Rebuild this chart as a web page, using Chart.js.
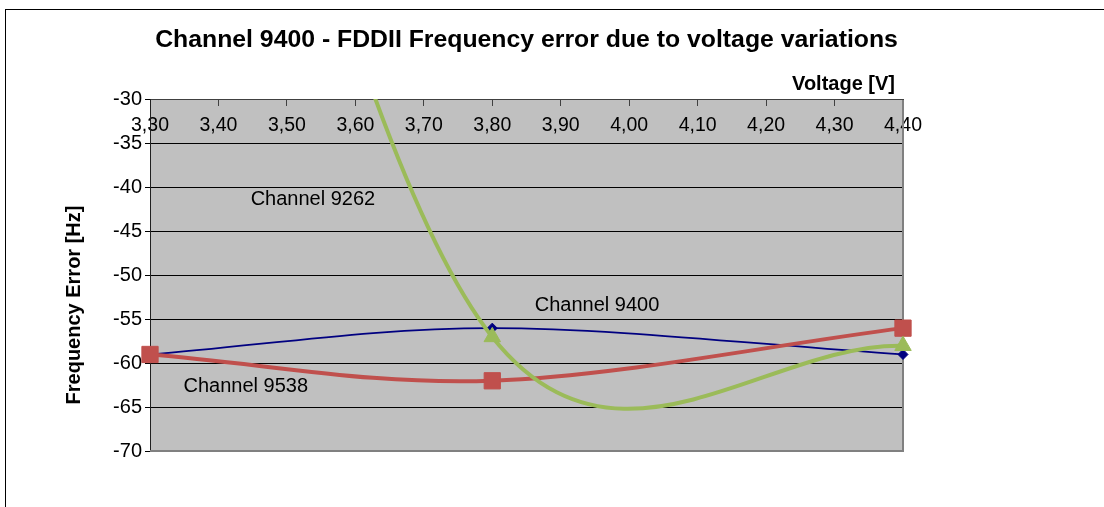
<!DOCTYPE html>
<html>
<head>
<meta charset="utf-8">
<script src="https://cdn.jsdelivr.net/npm/chart.js@4.4.0/dist/chart.umd.min.js"></script>
<style>
  html, body { margin: 0; padding: 0; background: #fff; }
  #wrap { position: relative; width: 1104px; height: 507px; overflow: hidden; }
  #frame { position: absolute; left: 5px; top: 9px; right: -10px; bottom: -10px;
           border-top: 1px solid #000; border-left: 1px solid #000; pointer-events: none; }
</style>
</head>
<body>
<div id="wrap">
  <canvas id="chart" width="1104" height="507"></canvas>
  <div id="frame"></div>
</div>
<script>
// data
const voltages = [3.30, 3.80, 4.40];
const channel9400 = [-59, -56, -59];
const channel9538 = [-59, -62, -56];
const channel9262 = [50, -57, -58];   // 3,30 V point is far above the visible range

const seriesNames = ['Channel 9262', 'Channel 9538', 'Channel 9400'];
const yRange = [-70, -30];
const xRange = [3.30, 4.40];

const FONT = "'Liberation Sans', Arial, sans-serif";

function points(values) {
    return voltages.map((v, i) => ({ x: v, y: values[i] }));
}

// Excel style smoothing: interior handles (next - prev) / 6, end handles along the chord / 3
const excelSmooth = {
    id: 'excelSmooth',
    beforeDatasetDraw(chart, args) {
        const meta = args.meta;
        const line = meta.dataset;
        if (!line) return;
        line.updateControlPoints(chart.chartArea, meta.iScale.axis);
        const pts = meta.data;
        for (let i = 0; i < pts.length; i++) {
            const p = pts[i];
            const prev = pts[i - 1];
            const next = pts[i + 1];
            if (prev && next) {
                const dx = (next.x - prev.x) / 6;
                const dy = (next.y - prev.y) / 6;
                p.cp1x = p.x - dx; p.cp1y = p.y - dy;
                p.cp2x = p.x + dx; p.cp2y = p.y + dy;
            } else if (next) {
                p.cp1x = p.x; p.cp1y = p.y;
                p.cp2x = p.x + (next.x - p.x) / 3;
                p.cp2y = p.y + (next.y - p.y) / 3;
            } else if (prev) {
                p.cp1x = p.x - (p.x - prev.x) / 3;
                p.cp1y = p.y - (p.y - prev.y) / 3;
                p.cp2x = p.x; p.cp2y = p.y;
            }
        }
    }
};

// grey plot area with the darker right / bottom edge
const plotArea = {
    id: 'plotArea',
    beforeDraw(chart) {
        const { ctx, chartArea: a } = chart;
        ctx.save();
        ctx.fillStyle = '#c0c0c0';
        ctx.fillRect(a.left, a.top, a.right - a.left, a.bottom - a.top);
        ctx.restore();
    },
    beforeDatasetsDraw(chart) {
        const { ctx, chartArea: a } = chart;
        ctx.save();
        ctx.strokeStyle = '#808080';
        ctx.lineWidth = 2;
        ctx.beginPath();
        ctx.moveTo(a.right, a.top);
        ctx.lineTo(a.right, a.bottom);
        ctx.lineTo(a.left, a.bottom);
        ctx.stroke();
        ctx.restore();
    }
};

// series names inside the plot and the two axis titles
const labelPos = {
    'Channel 9262': [3.447, -41.3],
    'Channel 9400': [3.862, -53.4],
    'Channel 9538': [3.349, -62.7]
};

const texts = {
    id: 'texts',
    afterDatasetsDraw(chart) {
        const { ctx, chartArea: a, scales: { x, y } } = chart;
        ctx.save();
        ctx.fillStyle = '#000';
        ctx.textBaseline = 'middle';
        ctx.textAlign = 'left';
        ctx.font = '20px ' + FONT;
        seriesNames.forEach(name => {
            const p = labelPos[name];
            ctx.fillText(name, x.getPixelForValue(p[0]), y.getPixelForValue(p[1]));
        });

        ctx.font = 'bold 20px ' + FONT;
        ctx.textAlign = 'right';
        ctx.fillText('Voltage [V]', a.right - 8, a.top - 15);

        ctx.translate(74, 305);
        ctx.rotate(-Math.PI / 2);
        ctx.textAlign = 'center';
        ctx.fillText('Frequency Error [Hz]', 0, 0);
        ctx.restore();
    }
};

Chart.defaults.font.family = FONT;
Chart.defaults.color = '#000';

new Chart(document.getElementById('chart'), {
    type: 'line',
    data: {
        datasets: [
            {
                label: seriesNames[0],
                data: points(channel9262),
                borderColor: '#9bbb59',
                backgroundColor: '#9bbb59',
                borderWidth: 4,
                pointStyle: 'triangle',
                pointRadius: 9.5,
                pointBorderWidth: 1
            },
            {
                label: seriesNames[1],
                data: points(channel9538),
                borderColor: '#c0504d',
                backgroundColor: '#c0504d',
                borderWidth: 4,
                pointStyle: 'rect',
                pointRadius: 11.5,
                pointBorderWidth: 1
            },
            {
                label: seriesNames[2],
                data: points(channel9400),
                borderColor: '#000080',
                backgroundColor: '#000080',
                borderWidth: 1.75,
                pointStyle: 'rectRot',
                pointRadius: 5,
                pointBorderWidth: 1
            }
        ]
    },
    options: {
        responsive: false,
        animation: false,
        devicePixelRatio: 1,
        layout: { padding: { left: 0, right: 201, top: 0, bottom: 56 } },
        elements: {
            line: { tension: 0.3, fill: false }
        },
        datasets: {
            line: { clip: { left: 12, top: 1, right: 12, bottom: 12 } }
        },
        plugins: {
            legend: { display: false },
            tooltip: { enabled: false },
            title: {
                display: true,
                fullSize: false,
                text: 'Channel 9400 - FDDII Frequency error due to voltage variations',
                color: '#000',
                font: { size: 24.8, weight: 'bold', lineHeight: 1.2 },
                padding: { top: 25, bottom: 45.2 }
            }
        },
        scales: {
            x: {
                type: 'linear',
                position: { y: -30 },
                min: xRange[0],
                max: xRange[1],
                afterFit: scale => { scale.height = 0; },
                ticks: {
                    stepSize: 0.1,
                    maxRotation: 0,
                    autoSkip: false,
                    padding: 8,
                    font: { size: 19.5 },
                    callback: v => v.toFixed(2).replace('.', ',')
                },
                grid: {
                    drawOnChartArea: false,
                    drawTicks: true,
                    tickLength: 6,
                    tickColor: '#404040'
                },
                border: { display: true, color: '#404040', width: 1 }
            },
            y: {
                min: yRange[0],
                max: yRange[1],
                afterFit: scale => { scale.width = 150; },
                ticks: {
                    stepSize: 5,
                    padding: 3,
                    font: { size: 20 }
                },
                grid: {
                    color: '#000',
                    lineWidth: 1,
                    drawTicks: true,
                    tickLength: 5,
                    tickColor: '#000'
                },
                border: { display: true, color: '#202020', width: 1 }
            }
        }
    },
    plugins: [plotArea, excelSmooth, texts]
});
</script>
</body>
</html>
